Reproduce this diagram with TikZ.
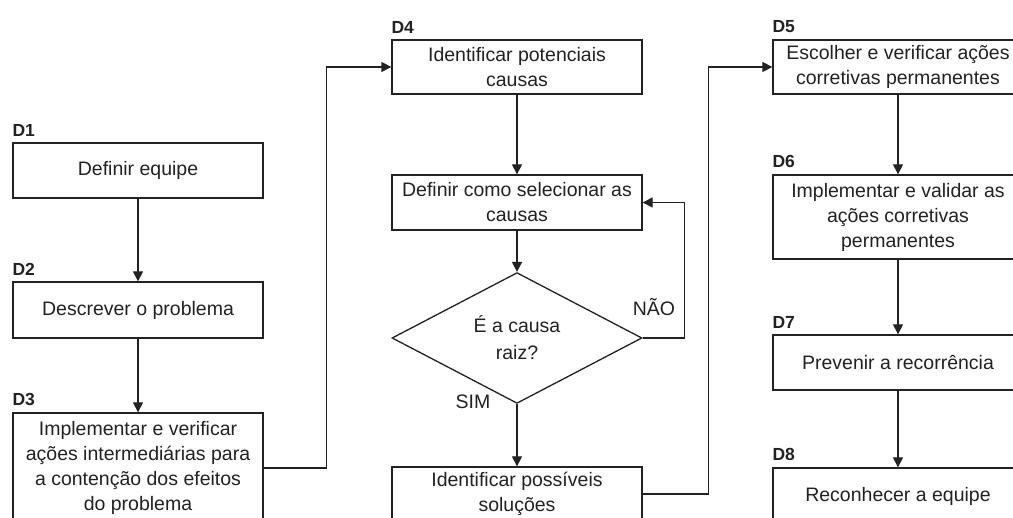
\documentclass[tikz,border=0pt]{standalone}
\usepackage{fontspec}
\setmainfont{Liberation Sans}
\usetikzlibrary{shapes.geometric,arrows.meta}
\definecolor{ink}{HTML}{222222}
\tikzset{
  box/.style={draw=ink, line width=1.3pt, rectangle, minimum width=250pt, inner sep=0pt,
    align=center, text=ink, font=\fontsize{19.5}{25}\selectfont},
  dia/.style={draw=ink, line width=1.3pt, diamond, minimum width=250pt, minimum height=100pt,
    inner sep=0pt, align=center, text=ink, font=\fontsize{19.5}{27}\selectfont},
  dlabel/.style={anchor=south west, inner sep=0pt, text=ink, font=\fontsize{17.5}{17.5}\selectfont\bfseries},
  txt/.style={inner sep=0pt, text=ink, font=\fontsize{19.5}{25}\selectfont},
  arr/.style={draw=ink, line width=1.3pt, -{Triangle[length=10pt,width=10pt]}},
  con/.style={draw=ink, line width=1.3pt}
}
\begin{document}
\begin{tikzpicture}[x=1pt,y=-1pt]
\useasboundingbox[fill=white] (0,0) rectangle (1013,518);
% left column
\node[box, minimum height=55pt] (D1) at (138,170.5) {Definir equipe};
\node[box, minimum height=56pt] (D2) at (138,310) {Descrever o problema};
\node[box, minimum height=110pt] (D3) at (138,468) {Implementar e verificar\\ações intermediárias para\\a contenção dos efeitos\\do problema};
% middle column
\node[box, minimum height=54pt] (D4) at (517,67) {Identificar potenciais\\causas};
\node[box, minimum height=55pt] (Sel) at (517,202.5) {Definir como selecionar as\\causas};
\node[dia] (Dia) at (517,338) {É a causa\\raiz?};
\node[box, minimum height=54pt] (Sol) at (517,494) {Identificar possíveis\\soluções};
% right column
\node[box, minimum height=54pt] (D5) at (898,67) {Escolher e verificar ações\\corretivas permanentes};
\node[box, minimum height=84pt] (D6) at (898,217) {Implementar e validar as\\ações corretivas\\permanentes};
\node[box, minimum height=55pt] (D7) at (898,362.5) {Prevenir a recorrência};
\node[box, minimum height=56pt] (D8) at (898,496) {Reconhecer a equipe};
% step labels
\node[dlabel] (L1) at ([yshift=6pt]D1.north west) {D1};
\node[dlabel] (L2) at ([yshift=6pt]D2.north west) {D2};
\node[dlabel] (L3) at ([yshift=6pt]D3.north west) {D3};
\node[dlabel] (L4) at ([yshift=6pt]D4.north west) {D4};
\node[dlabel] (L5) at ([yshift=6pt]D5.north west) {D5};
\node[dlabel] (L6) at ([yshift=6pt]D6.north west) {D6};
\node[dlabel] (L7) at ([yshift=6pt]D7.north west) {D7};
\node[dlabel] (L8) at ([yshift=6pt]D8.north west) {D8};
% connectors
\draw[arr] (D1.south) -- (D2.north);
\draw[arr] (D2.south) -- (D3.north);
\draw[arr] (D3.east) -- ++(63,0) |- (D4.west);
\draw[arr] (D4.south) -- (Sel.north);
\draw[arr] (Sel.south) -- (Dia.north);
\draw[arr] (Dia.east) -- ++(42,0) |- (Sel.east);
\draw[arr] (Dia.south) -- (Sol.north);
\draw[arr] (Sol.east) -- ++(66,0) |- (D5.west);
\draw[arr] (D5.south) -- (D6.north);
\draw[arr] (D6.south) -- (D7.north);
\draw[arr] (D7.south) -- (D8.north);
% branch labels
\node[txt] (nao) at (654,307) {NÃO};
\node[txt] (sim) at (473,402) {SIM};
\end{tikzpicture}
\end{document}
